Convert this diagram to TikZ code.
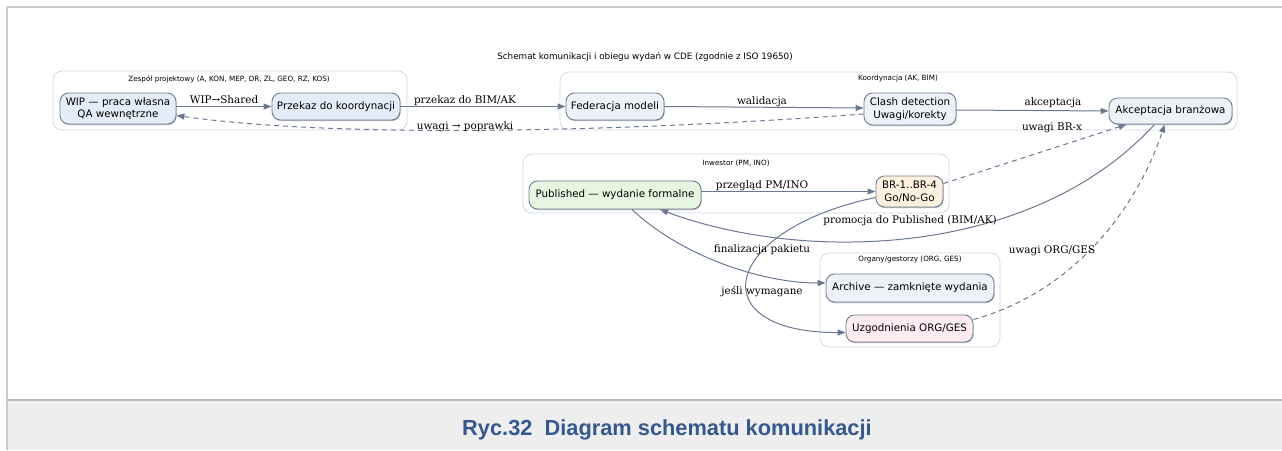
\documentclass[tikz,border=0pt]{standalone}
\usepackage{fontspec}
\setmainfont{DejaVu Serif}
\newfontfamily\nodefont{DejaVu Sans}
\newfontfamily\capfont{Liberation Sans}
\usetikzlibrary{arrows.meta,shadows}

\definecolor{edgec}{HTML}{6B7891}
\definecolor{nodeb}{HTML}{717D92}
\definecolor{clusb}{HTML}{D3DAE5}
\definecolor{fblue}{HTML}{E4ECF9}
\definecolor{fgrey}{HTML}{EEF2F8}
\definecolor{fgreen}{HTML}{E7F6E1}
\definecolor{forange}{HTML}{FDF0DF}
\definecolor{fpink}{HTML}{FDECF0}
\definecolor{framec}{HTML}{CCCCCC}
\definecolor{bandc}{HTML}{EEEEEE}
\definecolor{capc}{HTML}{35598F}

\tikzset{
  box/.style={draw=nodeb, line width=0.9pt, rounded corners=8.5pt, align=center,
    font=\nodefont\fontsize{10.3}{12.5}\selectfont, inner sep=0pt,
    drop shadow={shadow xshift=0.6pt, shadow yshift=-1pt, fill=nodeb, opacity=0.55}},
  cluster/.style={draw=clusb, line width=0.8pt, rounded corners=9pt, inner sep=0pt},
  clabel/.style={font=\nodefont\fontsize{7.2}{8}\selectfont, inner sep=0pt},
  elabel/.style={font=\fontsize{10.4}{12}\selectfont, inner sep=1pt},
  flow/.style={draw=edgec, line width=1pt, -{Triangle[length=8pt,width=6pt]}},
  back/.style={flow, dash pattern=on 5pt off 4pt},
}

\begin{document}
\begin{tikzpicture}[x=1pt, y=-1pt]
  % page and caption band
  \useasboundingbox (0,0) rectangle (1282,450);
  \fill[white] (0,0) rectangle (1282,450);
  \fill[bandc] (7,400) rectangle (1282,450);
  \draw[framec, line width=1.2pt] (7,7) -- (1282,7);
  \draw[framec, line width=1.2pt] (7,7) -- (7,450);
  \draw[framec!90!black, line width=1.6pt] (7,400) -- (1282,400);
  \node[font=\capfont\bfseries\fontsize{21.8}{24}\selectfont, text=capc] (caption)
    at (667,430) {Ryc.32\ \ Diagram schematu komunikacji};

  % title
  \node[font=\nodefont\fontsize{8.8}{10}\selectfont] (title) at (645,57)
    {Schemat komunikacji i obiegu wydań w CDE (zgodnie z ISO 19650)};

  % clusters
  \node[cluster, minimum width=354pt, minimum height=59pt] (team) at (230,100.5) {};
  \node[clabel] (teaml) at (229,79) {Zespół projektowy (A, KON, MEP, DR, ZL, GEO, RZ, KOS)};
  \node[cluster, minimum width=677pt, minimum height=58pt] (coord) at (898.5,101) {};
  \node[clabel] (coordl) at (898,79) {Koordynacja (AK, BIM)};
  \node[cluster, minimum width=426pt, minimum height=59pt] (inv) at (736,183.5) {};
  \node[clabel] (invl) at (736,163) {Inwestor (PM, INO)};
  \node[cluster, minimum width=180pt, minimum height=94pt] (org) at (910,300) {};
  \node[clabel] (orgl) at (910,260) {Organy/gestorzy (ORG, GES)};

  % process nodes
  \node[box, fill=fblue, minimum width=116pt, minimum height=31pt] (wip) at (118,108.5)
    {WIP — praca własna\\QA wewnętrzne};
  \node[box, fill=fblue, minimum width=128pt, minimum height=27pt] (prz) at (336,106.5)
    {Przekaz do koordynacji};
  \node[box, fill=fgrey, minimum width=98pt, minimum height=27pt] (fed) at (615,106.5)
    {Federacja modeli};
  \node[box, fill=fgrey, minimum width=92pt, minimum height=32pt] (clash) at (910,109)
    {Clash detection\\Uwagi/korekty};
  \node[box, fill=fgrey, minimum width=123pt, minimum height=26pt] (akc) at (1170.5,111)
    {Akceptacja branżowa};
  \node[box, fill=fgreen, minimum width=172pt, minimum height=28pt] (pub) at (615,195)
    {Published — wydanie formalne};
  \node[box, fill=forange, minimum width=67pt, minimum height=31pt] (br) at (909.5,191.5)
    {BR-1..BR-4\\Go/No-Go};
  \node[box, fill=fgrey, minimum width=168pt, minimum height=28pt] (arch) at (910,288)
    {Archive — zamknięte wydania};
  \node[box, fill=fpink, minimum width=127pt, minimum height=27pt] (uzg) at (909.5,328.5)
    {Uzgodnienia ORG/GES};

  % connectors
  \draw[flow] (wip.east |- prz.west) -- (prz.west);
  \draw[flow] (prz.east) -- (fed.west);
  \draw[flow] (fed.east) -- ([yshift=1pt]clash.west);
  \draw[flow] ([yshift=-1pt]clash.east) -- (akc.west);
  \draw[back] ([yshift=-5pt]clash.west) .. controls (650,130) and (350,140) .. ([yshift=-7pt]wip.east);
  \draw[back] ([yshift=8pt]br.east) -- ([xshift=18pt]akc.south west);
  \draw[flow] ([xshift=46pt]akc.south west) .. controls (1030,260) and (800,262) .. ([xshift=45pt]pub.south);
  \draw[flow] (pub.east |- br.west) -- (br.west);
  \draw[flow] ([xshift=17pt]pub.south) .. controls (680,255) and (760,283) .. ([yshift=5pt]arch.west);
  \draw[flow] ([yshift=-6pt]br.west) .. controls (720,230) and (700,333) .. ([yshift=-4pt]uzg.west);
  \draw[back] ([yshift=9pt]uzg.east) .. controls (1080,290) and (1140,200) .. ([xshift=56pt]akc.south west);

  % connector labels
  \node[elabel] (l1) at (224,100) {WIP→Shared};
  \node[elabel] (l2) at (465,101) {przekaz do BIM/AK};
  \node[elabel] (l3) at (762,102) {walidacja};
  \node[elabel] (l4) at (1053,103) {akceptacja};
  \node[elabel] (l5) at (465,127) {uwagi → poprawki};
  \node[elabel] (l6) at (1052,128) {uwagi BR-x};
  \node[elabel] (l7) at (910,221) {promocja do Published (BIM/AK)};
  \node[elabel] (l8) at (762,186) {przegląd PM/INO};
  \node[elabel] (l9) at (762,250) {finalizacja pakietu};
  \node[elabel] (l10) at (762,292) {jeśli wymagane};
  \node[elabel] (l11) at (1052,251) {uwagi ORG/GES};
\end{tikzpicture}
\end{document}
